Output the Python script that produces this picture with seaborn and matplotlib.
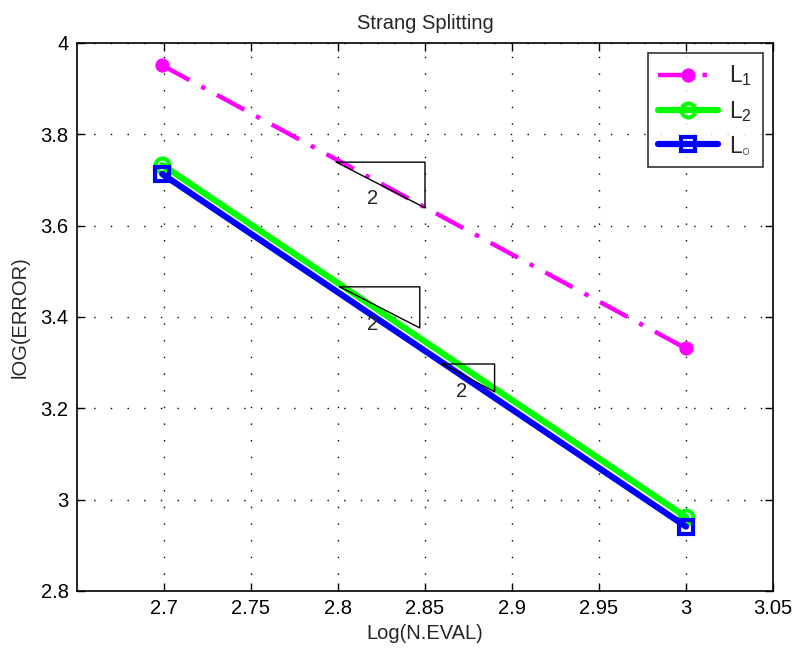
import numpy as np
import pandas as pd
import matplotlib
matplotlib.use("Agg")
import matplotlib.pyplot as plt
import seaborn as sns

# Log of number of evaluations and log of the error for each norm
log_neval = [2.699, 3.0]
err_l1 = [3.951, 3.331]
err_l2 = [3.733, 2.962]
err_linf = [3.713, 2.941]

series_names = ["L$_1$", "L$_2$", "L$_{\\circ}$"]

# Slope triangles: (x_left, x_right, y_top, y_bottom, label_x, label_y)
tri_x0 = [2.799, 2.801, 2.860]
tri_x1 = [2.850, 2.847, 2.890]
tri_ytop = [3.739, 3.466, 3.297]
tri_ybot = [3.639, 3.376, 3.236]
tri_lx = [2.820, 2.820, 2.871]
tri_ly = [3.659, 3.383, 3.236]
tri_label = ["2", "2", "2"]

sns.set_style("white")
plt.rcParams["font.family"] = ["Liberation Sans", "DejaVu Sans"]
plt.rcParams["mathtext.fontset"] = "custom"
plt.rcParams["mathtext.rm"] = "Liberation Sans"
plt.rcParams["mathtext.it"] = "Liberation Sans"

fig = plt.figure(figsize=(7.96, 6.49), dpi=100)
ax = fig.add_axes([0.0967, 0.0894, 0.8744, 0.8444])

df = pd.DataFrame({
    "x": log_neval * 3,
    "y": err_l1 + err_l2 + err_linf,
    "norm": [series_names[0]] * 2 + [series_names[1]] * 2 + [series_names[2]] * 2,
})

sns.lineplot(data=df[df["norm"] == series_names[0]], x="x", y="y", ax=ax,
             color="#ff00ff", lw=3.2, linestyle=(0, (7, 3, 1, 3)),
             marker="o", markersize=9.5, markerfacecolor="#ff00ff",
             markeredgecolor="#ff00ff", label=series_names[0])
sns.lineplot(data=df[df["norm"] == series_names[1]], x="x", y="y", ax=ax,
             color="#00ff00", lw=4.5, marker="o", markersize=10,
             markerfacecolor="none", markeredgecolor="#00ff00",
             markeredgewidth=3, label=series_names[1])
sns.lineplot(data=df[df["norm"] == series_names[2]], x="x", y="y", ax=ax,
             color="#0000ff", lw=4.5, marker="s", markersize=10,
             markerfacecolor="none", markeredgecolor="#0000ff",
             markeredgewidth=3, label=series_names[2])

for x0, x1, yt, yb, lx, ly, lab in zip(tri_x0, tri_x1, tri_ytop, tri_ybot,
                                        tri_lx, tri_ly, tri_label):
    ax.plot([x0, x1, x1, x0], [yt, yt, yb, yt], color="black", lw=1)
    ax.text(lx, ly, lab, fontsize=14.5, ha="center", va="center")

ax.set_xlim(2.65, 3.05)
ax.set_ylim(2.8, 4.0)
ax.set_xticks([2.7, 2.75, 2.8, 2.85, 2.9, 2.95, 3.0, 3.05])
ax.set_xticklabels(["2.7", "2.75", "2.8", "2.85", "2.9", "2.95", "3", "3.05"])
ax.set_yticks([2.8, 3.0, 3.2, 3.4, 3.6, 3.8, 4.0])
ax.set_yticklabels(["2.8", "3", "3.2", "3.4", "3.6", "3.8", "4"])
ax.tick_params(direction="in", length=6, width=1, labelsize=14.5,
               top=True, right=True, bottom=True, left=True, pad=6,
               colors="black")
ax.grid(True, color="black", linestyle=(0, (1, 11)), linewidth=1)
for s in ax.spines.values():
    s.set_color("black")
    s.set_linewidth(1.2)

ax.set_title("Strang Splitting", fontsize=14.5, pad=10)
ax.set_xlabel("Log(N.EVAL)", fontsize=14.5, labelpad=4)
ax.set_ylabel("lOG(ERROR)", fontsize=14.5, labelpad=8)

leg = ax.legend(loc="upper right", fontsize=16.5, frameon=True, fancybox=False,
                edgecolor="black", handlelength=2.6, borderaxespad=0.45,
                labelspacing=0.45, borderpad=0.45, handletextpad=0.5)
leg.get_frame().set_linewidth(1.2)

fig.savefig("out.png", dpi=100)
